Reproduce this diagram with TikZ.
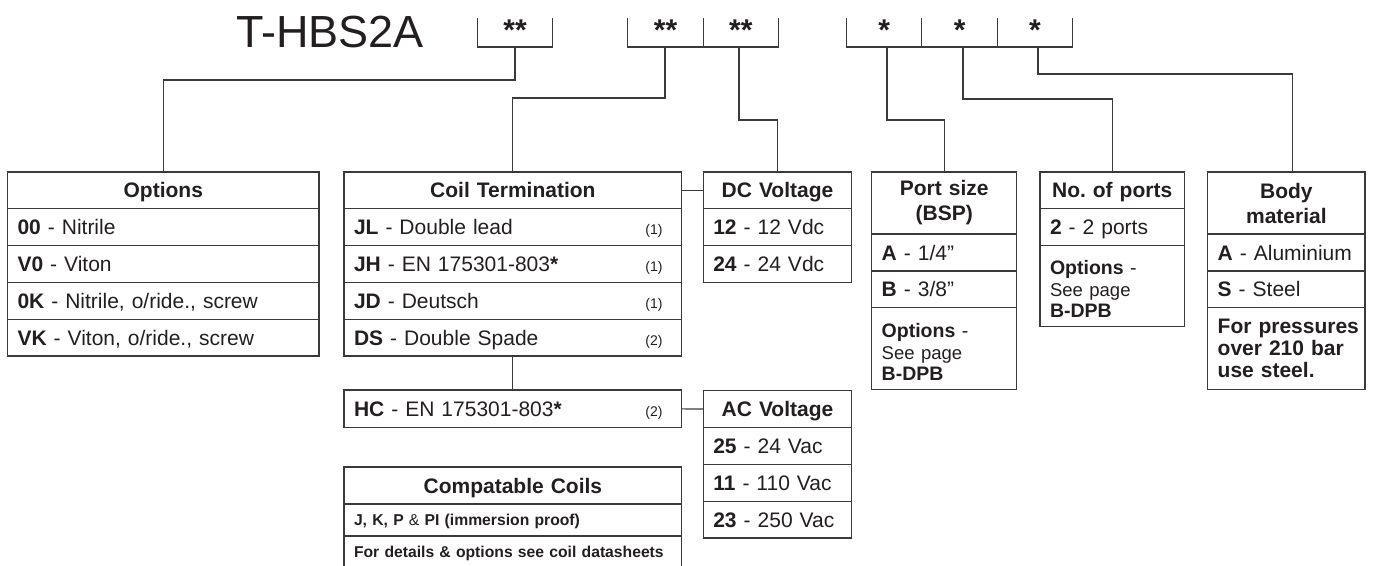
\documentclass[tikz,border=0pt]{standalone}
\usepackage{fontspec}
\setmainfont{Liberation Sans}
\usepackage{tikz}
\usetikzlibrary{calc}
\definecolor{rule}{HTML}{3A3A3A}
\definecolor{ink}{HTML}{231F20}
\newcommand{\fnt}[2]{\fontsize{#1}{#2}\selectfont}
\newcommand{\slot}[2]{\draw[wire] (#1,18) |- (#2,47) -- (#2,18);}
\tikzset{
  wire/.style={draw=rule, line width=1.2pt},
  cellbox/.style={draw=rule, line width=1.2pt, anchor=north west, outer sep=0pt,
    inner xsep=10pt, inner ysep=0pt, text=ink},
  row/.style 2 args={cellbox, text width=#1, minimum height=#2, align=left,
    text height=15pt, text depth=0pt, font=\fnt{21}{25}},
  head/.style 2 args={row={#1}{#2}, align=center, font=\fnt{21}{25}\bfseries},
  block/.style 2 args={cellbox, text width=#1, minimum height=#2, align=left},
  small/.style={font=\fnt{15.7}{19}\bfseries, text height=11.5pt},
  note/.style={anchor=base east, inner sep=0pt, text=ink, font=\fnt{14}{16}},
  title/.style={anchor=base west, inner sep=0pt, text=ink, font=\fnt{45}{50}},
  stars/.style={anchor=base, inner sep=0pt, text=ink, font=\fnt{30}{30}\bfseries}
}
\begin{document}
\begin{tikzpicture}[x=1pt,y=-1pt]
        \useasboundingbox (0,0) rectangle (1381,565);
        % part code
        \node[title] (code) at (236,47) {T-HBS2A};
        \slot{477.7}{552.7}
        \slot{627.7}{778.3}
        \slot{846.7}{1072.7}
        \draw[wire] (703.3,18) -- (703.3,47);
        \draw[wire] (921.7,18) -- (921.7,47);
        \draw[wire] (997.5,18) -- (997.5,47);
        \node[stars] (s1) at (515,40) {**};
        \node[stars] (s2) at (665.5,40) {**};
        \node[stars] (s3) at (740.8,40) {**};
        \node[stars] (s4) at (884.2,40) {*};
        \node[stars] (s5) at (959.6,40) {*};
        \node[stars] (s6) at (1035,40) {*};
        \coordinate (tap1) at (515,47);
        \coordinate (tap2) at (665,47);
        \coordinate (tap3) at (739,47);
        \coordinate (tap4) at (887,47);
        \coordinate (tap5) at (963,47);
        \coordinate (tap6) at (1038,47);
        % options
        \node[head={291.5}{36.8}] (oh) at (7.5,172) {Options};
        \node[row={291.5}{36.8}] (o1) at (oh.south west) {\textbf{00} - Nitrile};
        \node[row={291.5}{36.8}] (o2) at (o1.south west) {\textbf{V0} - Viton};
        \node[row={291.5}{36.8}] (o3) at (o2.south west) {\textbf{0K} - Nitrile, o/ride., screw};
        \node[row={291.5}{36.8}] (o4) at (o3.south west) {\textbf{VK} - Viton, o/ride., screw};
        % coil termination
        \node[head={317.7}{36.8}] (ch) at (344,172) {Coil Termination};
        \node[row={317.7}{36.8}] (c1) at (ch.south west) {\textbf{JL} - Double lead};
        \node[row={317.7}{36.8}] (c2) at (c1.south west) {\textbf{JH} - EN 175301-803\textbf{*}};
        \node[row={317.7}{36.8}] (c3) at (c2.south west) {\textbf{JD} - Deutsch};
        \node[row={317.7}{36.8}] (c4) at (c3.south west) {\textbf{DS} - Double Spade};
        \node[row={317.7}{37.7}] (hc) at (344,390) {\textbf{HC} - EN 175301-803\textbf{*}};
        \node[note] (r1) at ([xshift=-19pt]c1.base east) {(1)};
        \node[note] (r2) at ([xshift=-19pt]c2.base east) {(1)};
        \node[note] (r3) at ([xshift=-19pt]c3.base east) {(1)};
        \node[note] (r4) at ([xshift=-19pt]c4.base east) {(2)};
        \node[note] (r5) at ([xshift=-19pt]hc.base east) {(2)};
        % compatable coils
        \node[head={317.7}{37}] (kh) at (344,467) {Compatable Coils};
        \node[row={317.7}{32}, small] (cc1) at (kh.south west) {J, K, P {\mdseries\&} PI (immersion proof)};
        \node[row={317.7}{32}, small] (cc2) at (cc1.south west) {For details \& options see coil datasheets};
        % voltages
        \node[head={128.4}{36.8}] (dh) at (703.3,172) {DC Voltage};
        \node[row={128.4}{36.8}] (d1) at (dh.south west) {\textbf{12} - 12 Vdc};
        \node[row={128.4}{36.8}] (d2) at (d1.south west) {\textbf{24} - 24 Vdc};
        \node[head={128.4}{36.8}] (ah) at (703.3,390.7) {AC Voltage};
        \node[row={128.4}{36.8}] (a1) at (ah.south west) {\textbf{25} - 24 Vac};
        \node[row={128.4}{36.8}] (a2) at (a1.south west) {\textbf{11} - 110 Vac};
        \node[row={128.4}{36.8}] (a3) at (a2.south west) {\textbf{23} - 250 Vac};
        % port size
        \node[block={125}{62}, align=center, font=\fnt{21}{25}\bfseries] (ph) at (871.7,172) {Port size\\(BSP)};
        \node[row={125}{37}] (p1) at (ph.south west) {\textbf{A} - 1/4”};
        \node[row={125}{36.7}] (p2) at (p1.south west) {\textbf{B} - 3/8”};
        \node[block={125}{81.6}, font=\fnt{19.5}{21.5}] (p3) at (p2.south west) {\rule{0pt}{21pt}\textbf{Options} -\\{\fnt{18.5}{21.5}See page}\\\textbf{B-DPB}};
        % no. of ports
        \node[head={124.3}{36.3}] (nh) at (1040,172) {No.\ of ports};
        \node[row={124.3}{37.4}] (n1) at (nh.south west) {\textbf{2} - 2 ports};
        \node[block={124.3}{81}, font=\fnt{19.5}{21.5}] (n2) at (n1.south west) {\rule{0pt}{20pt}\textbf{Options} -\\{\fnt{18.5}{21.5}See page}\\\textbf{B-DPB}};
        % body material
        \node[block={137.3}{62}, align=center, font=\fnt{21}{25}\bfseries] (bh) at (1207.7,172) {Body\\material};
        \node[row={137.3}{37}] (b1) at (bh.south west) {\textbf{A} - Aluminium};
        \node[row={137.3}{36.7}] (b2) at (b1.south west) {\textbf{S} - Steel};
        \node[block={137.3}{81.6}, font=\fnt{21}{21.7}\bfseries] (b3) at (b2.south west) {\mbox{For pressures}\\\mbox{over 210 bar}\\\mbox{use steel.}};
        % connectors
        \draw[wire] (tap1) -- ++(0,33) -| (oh.north);
        \draw[wire] (tap2) -- ++(0,51) -| (ch.north);
        \draw[wire] (tap3) -- ++(0,73) -| (dh.north);
        \draw[wire] (tap4) -- ++(0,73) -| (ph.north);
        \draw[wire] (tap5) -- ++(0,52) -| (nh.north);
        \draw[wire] (tap6) -- ++(0,27) -| ([xshift=6pt]bh.north);
        \draw[wire] (ch.east) -- (dh.west);
        \draw[wire] (c4.south) -- (hc.north);
        \draw[wire] (hc.east) -- (ah.west);
\end{tikzpicture}
\end{document}
